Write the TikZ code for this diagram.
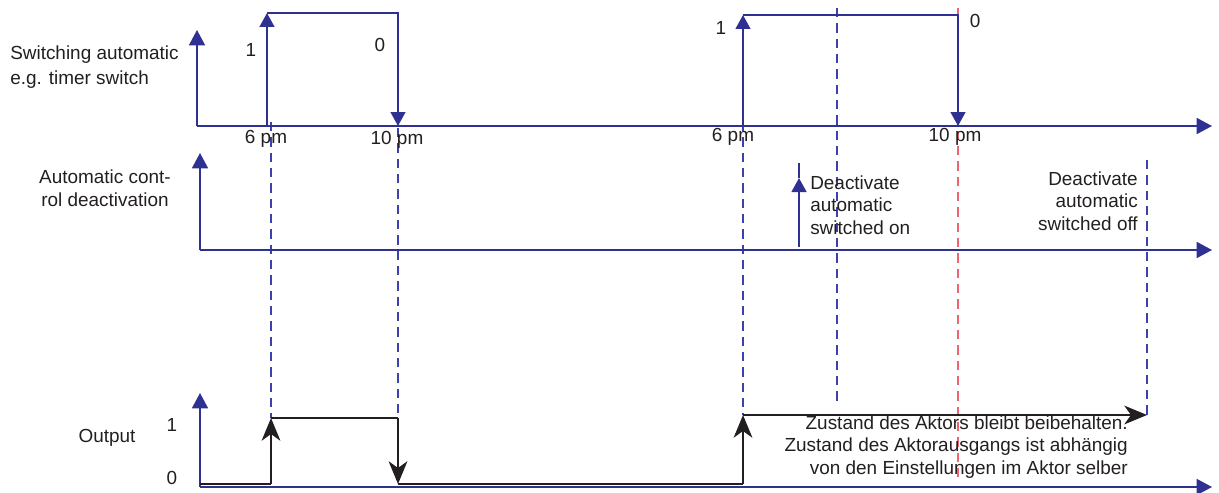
\documentclass[tikz,border=0pt]{standalone}
\usepackage{fontspec}
\setmainfont{Liberation Sans}
\usetikzlibrary{arrows.meta}
\definecolor{ablue}{RGB}{46,49,146}
\definecolor{gblue}{RGB}{60,65,175}
\definecolor{ared}{RGB}{240,100,110}
\definecolor{txt}{RGB}{35,31,32}
\begin{document}
\begin{tikzpicture}[x=0.75pt,y=-0.75pt,
  axis/.style={ablue, line width=1.2pt, -{Triangle[length=11.5pt,width=12pt]}},
  pulse/.style={ablue, line width=1.8pt},
  ptip/.style={-{Triangle[length=10.5pt,width=11pt]}},
  guide/.style={gblue, line width=0.9pt, dash pattern=on 7pt off 4.5pt},
  redguide/.style={ared, line width=0.9pt, dash pattern=on 7pt off 4.5pt},
  outp/.style={txt, line width=1.9pt},
  otip/.style={-{Stealth[length=17pt,width=14pt,inset=5pt]}},
  lbl/.style={text=txt, font=\fontsize{14.2}{16.5}\selectfont, inner sep=0pt}]
\useasboundingbox (0,0) rectangle (1219,492);
% coordinates
\coordinate (a1o) at (197,126); \coordinate (a1y) at (197,30); \coordinate (a1x) at (1212,126);
\coordinate (a2o) at (200,250); \coordinate (a2y) at (200,153); \coordinate (a2x) at (1212,250);
\coordinate (a3o) at (200,487); \coordinate (a3y) at (200,393); \coordinate (a3x) at (1212,487);
% guides
\coordinate (g1t) at (271,122); \coordinate (g1b) at (271,418);
\coordinate (g2t) at (398,128); \coordinate (g2b) at (398,418);
\coordinate (g3t) at (743,122); \coordinate (g3b) at (743,415);
\coordinate (g4t) at (837,8);   \coordinate (g4b) at (837,405);
\coordinate (g5t) at (958,8);   \coordinate (g5b) at (958,482);
\coordinate (g6t) at (1147,160); \coordinate (g6b) at (1147,415);
\draw[guide] (g1t) -- (g1b);
\draw[guide] (g2t) -- (g2b);
\draw[guide] (g3t) -- (g3b);
\draw[guide] (g4t) -- (g4b);
\draw[redguide] (g5t) -- (g5b);
\draw[guide] (g6t) -- (g6b);
% axes
\draw[axis] (a1o) -- (a1y);
\draw[axis] (a1o) -- (a1x);
\draw[axis] (a2o) -- (a2y);
\draw[axis] (a2o) -- (a2x);
\draw[axis] (a3o) -- (a3y);
\draw[axis] (a3o) -- (a3x);
% pulses row 1
\coordinate (p1a) at (267,126); \coordinate (p1b) at (267,13); \coordinate (p1c) at (398,13); \coordinate (p1d) at (398,126);
\draw[pulse,ptip] (p1a) -- (p1b);
\draw[pulse,ptip] (p1b) -- (p1c) -- (p1d);
\coordinate (p2a) at (743,126); \coordinate (p2b) at (743,15); \coordinate (p2c) at (958,15); \coordinate (p2d) at (958,126);
\draw[pulse,ptip] (p2a) -- (p2b);
\draw[pulse,ptip] (p2b) -- (p2c) -- (p2d);
% deactivate arrow row 2
\coordinate (d1) at (799,247); \coordinate (d2) at (799,178); \coordinate (d3) at (799,163);
\draw[pulse,ptip] (d1) -- (d2);
\draw[pulse] (d2) -- (d3);
% output signal
\coordinate (o0) at (200,484); \coordinate (o1) at (271,484); \coordinate (o2) at (271,418);
\coordinate (o3) at (398,418); \coordinate (o4) at (398,484); \coordinate (o5) at (743,484);
\coordinate (o6) at (743,415); \coordinate (o7) at (1147,415);
\draw[outp] (o0) -- (o1);
\draw[outp,otip] (o1) -- (o2);
\draw[outp] (o2) -- (o3);
\draw[outp,otip] (o3) -- (o4);
\draw[outp] (o4) -- (o5);
\draw[outp,otip] (o5) -- (o6);
\draw[outp,otip] (o6) -- (o7);
% labels
\node[lbl, anchor=west, align=left, font=\fontsize{14.2}{18.5}\selectfont] (lsw) at (10,67) {Switching automatic\\e.g. timer switch};
\node[lbl, align=center, font=\fontsize{14.2}{17.5}\selectfont] (lac) at (105,188) {Automatic cont-\\rol deactivation};
\node[lbl] (lout) at (107,438) {Output};
\node[lbl] (lo1) at (172,425) {1};
\node[lbl] (lo0) at (172,478) {0};
\node[lbl] (l1a) at (251,50) {1};
\node[lbl] (l0a) at (380,45) {0};
\node[lbl] (l1b) at (721,28) {1};
\node[lbl] (l0b) at (975,21) {0};
\node[lbl] (t6a) at (266,139) {6 pm};
\node[lbl] (t10a) at (397,140) {10 pm};
\node[lbl] (t6b) at (733,137) {6 pm};
\node[lbl] (t10b) at (955,137) {10 pm};
\node[lbl, anchor=west, align=left, font=\fontsize{14.2}{16.8}\selectfont] (don) at (810,205) {Deactivate\\automatic\\switched on};
\node[lbl, anchor=east, align=right, font=\fontsize{14.2}{16.8}\selectfont] (doff) at (1138,201) {Deactivate\\automatic\\switched off};
\node[lbl, anchor=east, align=right, font=\fontsize{14.2}{16.8}\selectfont] (ztext) at (1128,447) {Zustand des Aktors bleibt beibehalten.\\Zustand des Aktorausgangs ist abhängig\\von den Einstellungen im Aktor selber};
\end{tikzpicture}
\end{document}
